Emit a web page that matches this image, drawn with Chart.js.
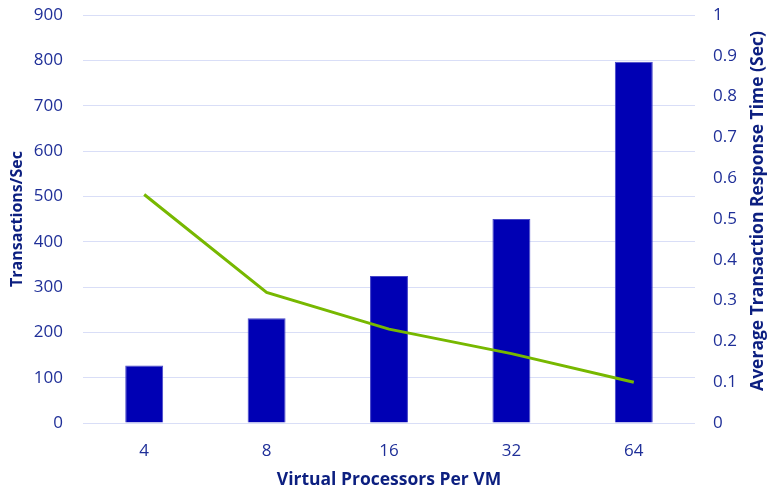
<!DOCTYPE html>
<html>
<head>
<meta charset="utf-8">
<script src="https://cdn.jsdelivr.net/npm/chart.js@4"></script>
<style>
  html, body { margin: 0; padding: 0; background: #fff; }
  #wrap { width: 768px; height: 493px; }
</style>
</head>
<body>
<div id="wrap"><canvas id="chart" width="768" height="493"></canvas></div>
<script>
// data
const categories   = ['4', '8', '16', '32', '64'];
const transactions = [127, 231, 324, 450, 797];          // Transactions/Sec (bars, left axis)
const responseTime = [0.56, 0.32, 0.23, 0.17, 0.10];     // Avg response time in sec (line, right axis)

const TICK_COLOR  = '#1f2f98';
const TITLE_COLOR = '#0c1f80';
const GRID_COLOR  = '#d9def7';
const FONT        = '"Open Sans", "Noto Sans", sans-serif';

const tickFont      = { family: FONT, size: 17 };
const titleFont     = { family: FONT, size: 16, weight: 'bold' };
const wideTitleFont = { family: FONT, size: 17.5, weight: 'bold' };

const RIGHT_TITLE = 'Average Transaction Response Time (Sec)';

// Chart.js turns a right-hand title top-to-bottom; the reference reads bottom-to-top,
// so draw it by hand next to the right axis.
const rightTitlePlugin = {
  id: 'rightTitle',
  afterDraw(chart) {
    const { ctx, chartArea } = chart;
    const cx = chart.width - 10;
    const cy = (chartArea.top + chartArea.bottom) / 2 - 8;
    ctx.save();
    ctx.translate(cx, cy);
    ctx.rotate(-Math.PI / 2);
    ctx.font = `bold ${wideTitleFont.size}px ${FONT}`;
    ctx.fillStyle = TITLE_COLOR;
    ctx.textAlign = 'center';
    ctx.textBaseline = 'middle';
    ctx.fillText(RIGHT_TITLE, 0, 0);
    ctx.restore();
  },
};

// fix the axis boxes so the plot area sits where it does in the reference
function fixWidth(w) {
  return (s) => { s.width = w; s.paddingTop = 0; s.paddingBottom = 0; };
}

new Chart(document.getElementById('chart').getContext('2d'), {
  data: {
    labels: categories,
    datasets: [
      {
        type: 'line',
        label: RIGHT_TITLE,
        data: responseTime,
        yAxisID: 'yRight',
        borderColor: '#77b800',
        borderWidth: 3,
        pointRadius: 0,
        tension: 0,
        order: 0,
      },
      {
        type: 'bar',
        label: 'Transactions/Sec',
        data: transactions,
        yAxisID: 'yLeft',
        backgroundColor: '#0000b4',
        borderColor: '#4646c8',
        borderWidth: 1,
        barPercentage: 0.31,
        categoryPercentage: 1,
        order: 1,
      },
    ],
  },
  options: {
    responsive: false,
    animation: false,
    layout: { padding: { top: 15, right: 0, bottom: 0, left: 0 } },
    plugins: { legend: { display: false }, tooltip: { enabled: false } },
    scales: {
      x: {
        offset: true,
        grid: { display: false, drawTicks: false },
        border: { display: false },
        ticks: { color: TICK_COLOR, font: tickFont, padding: 18 },
        title: {
          display: true, text: 'Virtual Processors Per VM',
          color: TITLE_COLOR, font: wideTitleFont, padding: { top: 0, bottom: 2 },
        },
        afterFit: (s) => { s.height = 70; s.paddingLeft = 0; s.paddingRight = 0; },
      },
      yLeft: {
        position: 'left',
        min: 0, max: 900,
        ticks: { stepSize: 100, color: TICK_COLOR, font: tickFont, padding: 20 },
        grid: { color: GRID_COLOR, lineWidth: 1, drawTicks: false },
        border: { display: false },
        title: {
          display: true, text: 'Transactions/Sec',
          color: TITLE_COLOR, font: titleFont, padding: { top: 8, bottom: 0 },
        },
        afterFit: fixWidth(83),
      },
      yRight: {
        position: 'right',
        min: 0, max: 1,
        ticks: {
          stepSize: 0.1, color: TICK_COLOR, font: tickFont, padding: 18,
          callback: (v) => String(Math.round(v * 10) / 10),
        },
        grid: { display: false, drawTicks: false },
        border: { display: false },
        afterFit: fixWidth(73),
      },
    },
  },
  plugins: [rightTitlePlugin],
});
</script>
</body>
</html>
